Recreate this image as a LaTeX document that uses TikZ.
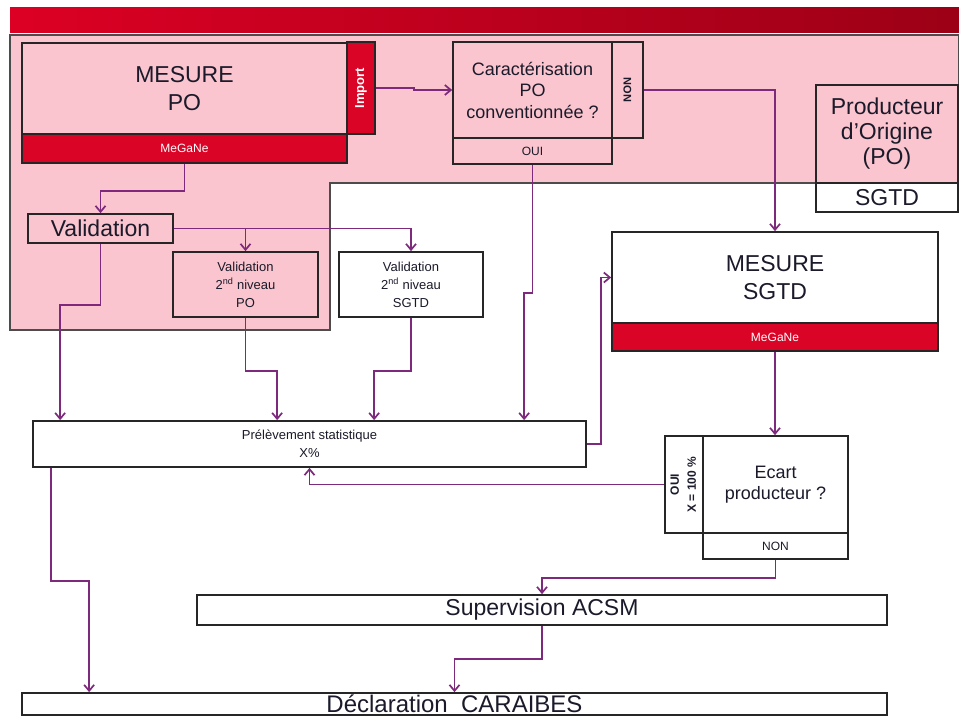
\documentclass[tikz,border=0pt]{standalone}
\usepackage{fontspec}
\setmainfont{Liberation Sans}
\usepackage{graphicx}
\usepackage{tikz}
\usetikzlibrary{arrows.meta}

\definecolor{rose}{HTML}{FAC5CE}
\definecolor{rouge}{HTML}{DA0526}
\definecolor{bandeauG}{HTML}{DC0024}
\definecolor{bandeauD}{HTML}{9C0016}
\definecolor{fleche}{HTML}{7D2A7D}
\definecolor{encre}{HTML}{1A1A2A}

\begin{document}
\begin{tikzpicture}
[x=1pt, y=-1pt,
box/.style ={rectangle, draw=black!85, line width=1.7pt, inner sep=0pt,
align=center, text=encre},
pinkbox/.style ={box, fill=rose},
whitebox/.style ={box, fill=white},
redbar/.style ={box, fill=rouge, text=white,
font=\fontsize{12}{13}\selectfont},
big/.style ={font=\fontsize{23}{28}\selectfont},
mid/.style ={font=\fontsize{18}{21.5}\selectfont},
small/.style ={font=\fontsize{13}{18}\selectfont},
tiny/.style ={font=\fontsize{12}{13}\selectfont},
line/.style ={draw=fleche, line width=1.7pt,
-{Straight Barb[length=6pt,width=10pt]}}]
\useasboundingbox (0,0) rectangle (959,717);

% bandeau + zone PO
\shade[left color=bandeauG, right color=bandeauD] (10,8) rectangle (959,33);
\draw[fill=rose, draw=black!70, line width=1.7pt]
  (10,35) -- (959,35) -- (959,183) -- (330,183) -- (330,330) -- (10,330) -- cycle;

% MESURE PO
\node [pinkbox, big, minimum width=325pt, minimum height=92pt] (mpo) at (184.5,89) {MESURE\\PO};
\node [redbar, minimum width=325pt, minimum height=29pt] (mpog) at (184.5,148.5) {MeGaNe};
\node [redbar, minimum width=28pt, minimum height=92pt] (imp) at (361,88) {\rotatebox{90}{\bfseries\fontsize{13}{14}\selectfont Import}};
% caracterisation
\node [pinkbox, mid, minimum width=159pt, minimum height=96pt] (car) at (532.5,90) {Caractérisation\\PO\\conventionnée ?};
\node [pinkbox, minimum width=31pt, minimum height=96pt,
font=\bfseries\fontsize{11}{12}\selectfont] (carnon) at (627.5,90) {\rotatebox{-90}{NON}};
\node [pinkbox, tiny, minimum width=159pt, minimum height=26pt] (caroui) at (532.5,151) {OUI};
% legende
\node [pinkbox, big, font=\fontsize{23}{25}\selectfont,
minimum width=142pt, minimum height=98pt] (prod) at (887,134) {Producteur\\d’Origine\\(PO)};
\node [whitebox, big, minimum width=142pt, minimum height=29pt] (prodsgtd) at (887,197.5) {SGTD};
% validations
\node [pinkbox, big, minimum width=145pt, minimum height=29pt] (val) at (100.5,228.5) {Validation};
\node [pinkbox, small, minimum width=145pt, minimum height=65pt] (valpo) at (245.5,284.5) {Validation\\2\textsuperscript{nd} niveau\\PO};
\node [whitebox, small, minimum width=144pt, minimum height=65pt] (valsgtd) at (411,284.5) {Validation\\2\textsuperscript{nd} niveau\\SGTD};
% MESURE SGTD
\node [whitebox, big, minimum width=326pt, minimum height=91pt] (msgtd) at (775,277.5) {MESURE\\SGTD};
\node [redbar, minimum width=326pt, minimum height=28pt] (msgtdg) at (775,337) {MeGaNe};
% prelevement
\node [whitebox, small, minimum width=553pt, minimum height=46pt] (prel) at (309.5,444) {Prélèvement statistique\\X\%};
% ecart
\node [whitebox, minimum width=38pt, minimum height=97pt,
font=\bfseries\fontsize{12}{17}\selectfont] (ecoui) at (684,484.5)
  {\rotatebox{90}{\begin{tabular}{@{}c@{}}OUI\\X = 100 \%\end{tabular}}};
\node [whitebox, mid, minimum width=145pt, minimum height=97pt] (ec) at (775.5,484.5) {Ecart\\producteur ?};
\node [whitebox, tiny, minimum width=145pt, minimum height=26pt] (ecnon) at (775.5,546) {NON};
% fin de chaine
\node [whitebox, big, minimum width=690pt, minimum height=30pt] (sup) at (542,610) {Supervision ACSM};
\node [whitebox, font=\fontsize{24}{26}\selectfont,
minimum width=865pt, minimum height=22pt] (decl) at (454.5,704) {Déclaration~~CARAIBES};

\begin{scope}[every path/.style=line]
\path (imp.east) -- ++(38,0) |- (car.west);
\path (carnon.east) -| (msgtd.north);
\path (mpog.south) -- ++(0,27) -| (val.north);
\path (val.east) -| (valsgtd.north);
\path (valpo.north |- val.east) -- (valpo.north);
\path (val.south) -- ++(0,61) -| ([xshift=28pt]prel.north west);
\path (valpo.south) -- ++(0,53) -| ([xshift=245pt]prel.north west);
\path (valsgtd.south) -- ++(0,53) -| ([xshift=342pt]prel.north west);
\path (caroui.south) -- ++(0,128) -| ([xshift=492pt]prel.north west);
\path (prel.east) -- ++(14,0) |- (msgtd.west);
\path (msgtdg.south) -- (msgtdg.south |- ec.north);
\path (ecoui.west) -| (prel.south);
\path (ecnon.south) -- ++(0,18) -| (sup.north);
\path (sup.south) -- ++(0,33) -| (decl.north);
\path ([xshift=19pt]prel.south west) -- ++(0,113) -| ([xshift=68pt]decl.north west);
\end{scope}
\end{tikzpicture}
\end{document}
